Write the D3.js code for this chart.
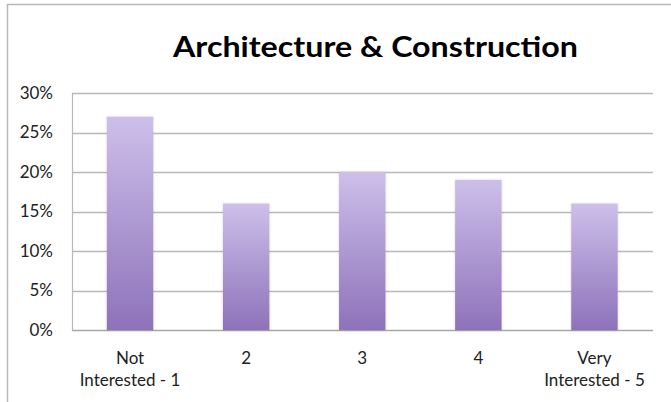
<!DOCTYPE html>
<html>
<head>
<meta charset="utf-8">
<script src="https://cdn.jsdelivr.net/npm/d3@7"></script>
<style>
  html, body { margin: 0; padding: 0; background: #fff; }
  svg { display: block; }
  text { font-family: Lato, "Open Sans", sans-serif; fill: #222; }
</style>
</head>
<body>
<svg id="chart" width="671" height="402"></svg>
<script>
const title = "Architecture & Construction";
const categories = [["Not", "Interested - 1"], ["2"], ["3"], ["4"], ["Very", "Interested - 5"]];
const values = [0.27, 0.16, 0.20, 0.19, 0.16];
const yTicks = [0, 0.05, 0.10, 0.15, 0.20, 0.25, 0.30];

const svg = d3.select("#chart");
const W = 671, H = 402;
const m = { left: 72, right: 18, top: 93, bottom: 72 };

// chart border
svg.append("rect")
  .attr("x", 7.5).attr("y", 4.5)
  .attr("width", 680).attr("height", 420)
  .attr("fill", "none").attr("stroke", "#b9b9b9").attr("stroke-width", 1.5);

const defs = svg.append("defs");
const grad = defs.append("linearGradient")
  .attr("id", "barGrad").attr("x1", 0).attr("y1", 0).attr("x2", 0).attr("y2", 1);
grad.append("stop").attr("offset", "0%").attr("stop-color", "#cdbfea");
grad.append("stop").attr("offset", "100%").attr("stop-color", "#8e72ba");

const filt = defs.append("filter").attr("id", "shadow")
  .attr("x", "-20%").attr("y", "-5%").attr("width", "140%").attr("height", "110%");
filt.append("feDropShadow").attr("dx", 0).attr("dy", 0).attr("stdDeviation", 1.2)
  .attr("flood-color", "#000").attr("flood-opacity", 0.18);

const x = d3.scaleBand()
  .domain(d3.range(values.length))
  .range([m.left, W - m.right + 0.5 - 1])
  .paddingInner(0.6).paddingOuter(0.3);
const y = d3.scaleLinear().domain([0, 0.30]).range([330, 93]);

// gridlines
svg.append("g").selectAll("line").data(yTicks).join("line")
  .attr("x1", m.left).attr("x2", 653)
  .attr("y1", d => Math.round(y(d)) + 0.5).attr("y2", d => Math.round(y(d)) + 0.5)
  .attr("stroke", d => d === 0 ? "#a8a8a8" : "#b8b8b8").attr("stroke-width", 1.5);
// y axis line
svg.append("line")
  .attr("x1", m.left + 0.5).attr("x2", m.left + 0.5)
  .attr("y1", y(0.30)).attr("y2", y(0) + 0.5)
  .attr("stroke", "#b8b8b8").attr("stroke-width", 1.2);

// y labels
const fmt = d3.format(".0%");
svg.append("g").selectAll("text").data(yTicks).join("text")
  .attr("x", 53).attr("y", d => y(d))
  .attr("dy", "0.35em").attr("text-anchor", "end")
  .attr("font-size", 17)
  .text(d => fmt(d));

// bars
svg.append("g").selectAll("rect").data(values).join("rect")
  .attr("x", (d, i) => x(i)).attr("width", x.bandwidth())
  .attr("y", d => y(d)).attr("height", d => y(0) - y(d))
  .attr("fill", "url(#barGrad)").attr("filter", "url(#shadow)");

// x labels
const xl = svg.append("g").selectAll("text").data(categories).join("text")
  .attr("text-anchor", "middle").attr("font-size", 17)
  .attr("transform", (d, i) => `translate(${x(i) + x.bandwidth() / 2},364)`);
xl.selectAll("tspan").data(d => d).join("tspan")
  .attr("x", 0).attr("y", (d, j) => j * 22)
  .text(d => d);

// title
svg.append("text")
  .attr("x", 375.5).attr("y", 57)
  .attr("text-anchor", "middle")
  .attr("font-size", 28).attr("font-weight", "bold")
  .attr("textLength", 405).attr("lengthAdjust", "spacingAndGlyphs")
  .style("fill", "#000")
  .text(title);
</script>
</body>
</html>
